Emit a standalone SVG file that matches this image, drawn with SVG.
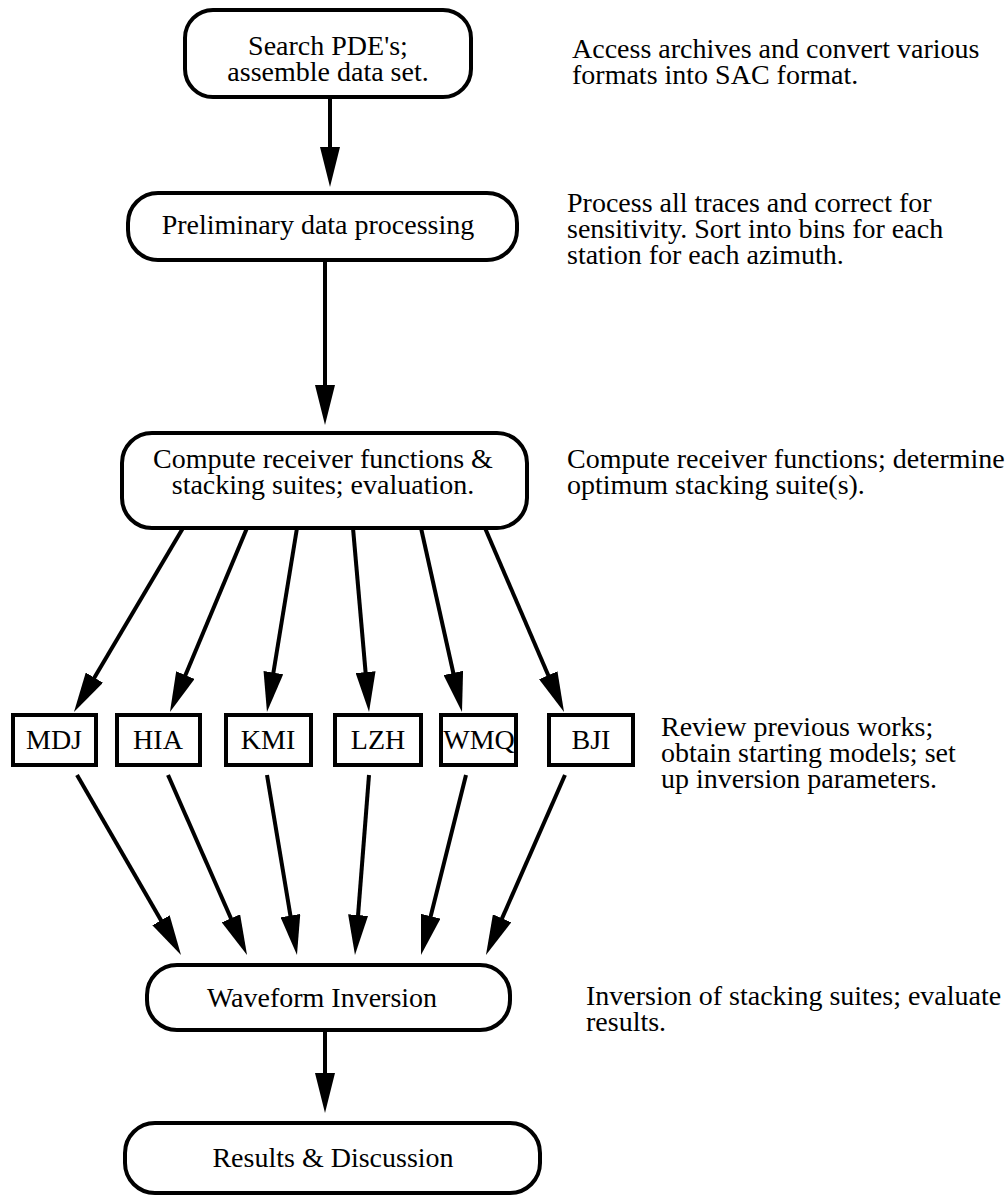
<svg xmlns="http://www.w3.org/2000/svg" width="1007" height="1196" viewBox="0 0 1007 1196">
<style>
.box{fill:#fff;stroke:#000;stroke-width:4}
.t{font-family:"Liberation Serif","Times New Roman",serif;font-size:28px;fill:#000}
.c{text-anchor:middle}
.ln{stroke:#000;stroke-width:4;fill:none;marker-end:url(#ah)}
</style>
<defs>
<marker id="ah" markerUnits="userSpaceOnUse" markerWidth="40" markerHeight="20" viewBox="0 0 40 20" refX="28" refY="10" orient="auto">
<path d="M0,0 L40,10 L0,20 z" fill="#000"/>
</marker>
</defs>
<g id="connectors">
<line class="ln" x1="330" y1="97" x2="330" y2="175"/>
<line class="ln" x1="325" y1="260" x2="325" y2="413"/>
<line class="ln" x1="183" y1="528" x2="80.1" y2="701.7"/>
<line class="ln" x1="247" y1="528" x2="174.6" y2="700.9"/>
<line class="ln" x1="297" y1="528" x2="268.9" y2="700.2"/>
<line class="ln" x1="353" y1="528" x2="368" y2="700"/>
<line class="ln" x1="421" y1="528" x2="459.4" y2="700.3"/>
<line class="ln" x1="485" y1="528" x2="559.3" y2="701"/>
<line class="ln" x1="77" y1="775" x2="175" y2="944.6"/>
<line class="ln" x1="168" y1="775" x2="242.2" y2="944"/>
<line class="ln" x1="267" y1="775" x2="295" y2="943.2"/>
<line class="ln" x1="369" y1="775" x2="355.9" y2="943"/>
<line class="ln" x1="466" y1="775" x2="423.9" y2="943.4"/>
<line class="ln" x1="565" y1="775" x2="490.8" y2="944"/>
<line class="ln" x1="325" y1="1030" x2="325" y2="1101"/>
</g>
<g id="n1"><rect class="box" x="185" y="10" width="286" height="87" rx="28"/><text class="t c" x="328" y="55">Search PDE's;</text><text class="t c" x="328" y="81">assemble data set.</text></g>
<g id="n2"><rect class="box" x="128" y="193" width="389" height="67" rx="30"/><text class="t c" x="318" y="234">Preliminary data processing</text></g>
<g id="n3"><rect class="box" x="122" y="433" width="405" height="95" rx="30"/><text class="t c" x="323" y="468">Compute receiver functions &amp;</text><text class="t c" x="323" y="494">stacking suites; evaluation.</text></g>
<g id="s1"><rect class="box" x="13" y="715" width="83" height="50"/><text class="t c" x="54" y="749">MDJ</text></g>
<g id="s2"><rect class="box" x="117" y="715" width="83" height="50"/><text class="t c" x="158" y="749">HIA</text></g>
<g id="s3"><rect class="box" x="226" y="715" width="85" height="50"/><text class="t c" x="268" y="749">KMI</text></g>
<g id="s4"><rect class="box" x="335" y="715" width="86" height="50"/><text class="t c" x="378" y="749">LZH</text></g>
<g id="s5"><rect class="box" x="441" y="715" width="75" height="50"/><text class="t c" x="479" y="749">WMQ</text></g>
<g id="s6"><rect class="box" x="549" y="715" width="84" height="50"/><text class="t c" x="591" y="749">BJI</text></g>
<g id="n4"><rect class="box" x="147" y="965" width="363" height="65" rx="30"/><text class="t c" x="322" y="1007">Waveform Inversion</text></g>
<g id="n5"><rect class="box" x="125" y="1123" width="415" height="70" rx="30"/><text class="t c" x="333" y="1167">Results &amp; Discussion</text></g>
<g id="notes">
<text class="t" x="572" y="58">Access archives and convert various</text>
<text class="t" x="572" y="84">formats into SAC format.</text>
<text class="t" x="567" y="212">Process all traces and correct for</text>
<text class="t" x="567" y="238">sensitivity. Sort into bins for each</text>
<text class="t" x="567" y="264">station for each azimuth.</text>
<text class="t" x="567" y="468">Compute receiver functions; determine</text>
<text class="t" x="567" y="494">optimum stacking suite(s).</text>
<text class="t" x="661" y="736">Review previous works;</text>
<text class="t" x="661" y="762">obtain starting models; set</text>
<text class="t" x="661" y="788">up inversion parameters.</text>
<text class="t" x="586" y="1005">Inversion of stacking suites; evaluate</text>
<text class="t" x="586" y="1031">results.</text>
</g>
</svg>
